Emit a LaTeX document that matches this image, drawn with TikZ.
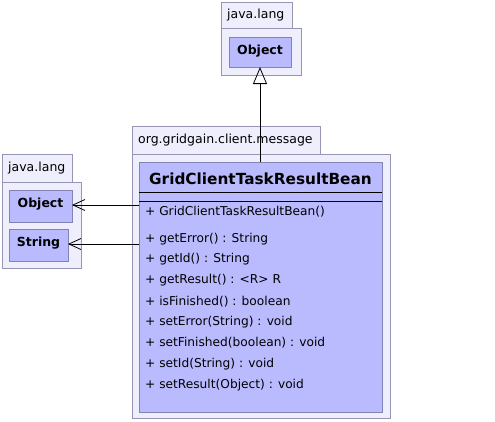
\documentclass[tikz,border=0pt]{standalone}
\usepackage{fontspec}
\setmainfont{DejaVu Sans}
\usetikzlibrary{arrows.meta}
\definecolor{pkgfill}{RGB}{238,238,252}
\definecolor{pkgdraw}{RGB}{150,150,180}
\definecolor{clsfill}{RGB}{186,186,255}
\definecolor{clsdraw}{RGB}{130,130,180}
\tikzset{
  pkg/.style={draw=pkgdraw,fill=pkgfill,line width=0.8pt},
  cls/.style={draw=clsdraw,fill=clsfill,line width=0.8pt},
  pkglabel/.style={anchor=west,font=\fontsize{12.5}{14}\selectfont,inner sep=0pt},
  clslabel/.style={font=\bfseries\fontsize{12.5}{14}\selectfont,inner sep=0pt},
  meth/.style={anchor=west,font=\fontsize{12.2}{14}\selectfont,inner sep=0pt},
  dep/.style={-{Straight Barb[length=12pt,width=11pt]},line width=0.8pt},
  gen/.style={-{Triangle[open,length=17pt,width=14pt]},line width=0.8pt}
}
\begin{document}
\begin{tikzpicture}[x=1pt,y=-1pt]
\useasboundingbox (0,0) rectangle (495,421);
% top package java.lang
\draw[pkg] (221,2) rectangle (292,28);
\draw[pkg] (221,28) rectangle (301,75);
\node[pkglabel] (p1) at (227,15) {java.lang};
\draw[cls] (229,37) rectangle (291,67);
\node[clslabel] (obj1) at (260,51) {Object};
\coordinate (obj1b) at (260,67);
% left package java.lang
\draw[pkg] (2,154) rectangle (72,182);
\draw[pkg] (2,182) rectangle (81,268);
\node[pkglabel] (p2) at (8,168) {java.lang};
\draw[cls] (9,190) rectangle (72,222);
\node[clslabel] (obj2) at (40.5,204) {Object};
\coordinate (obj2r) at (72,205);
\draw[cls] (9,229) rectangle (68,261);
\node[clslabel] (str) at (38.5,243) {String};
\coordinate (strr) at (68,244);
% main package
\draw[pkg] (132,126) rectangle (320,154);
\draw[pkg] (132,154) rectangle (390,418);
\node[pkglabel] (p3) at (138,140) {org.gridgain.client.message};
\draw[cls] (139,162) rectangle (382,412);
\node[font=\bfseries\fontsize{15.3}{18}\selectfont,inner sep=0pt] (main) at (260.5,179) {GridClientTaskResultBean};
\draw[line width=0.8pt] (139,192) -- (382,192);
\draw[line width=0.8pt] (139,201) -- (382,201);
\coordinate (maintop) at (260,162);
\coordinate (mainl1) at (139,205);
\coordinate (mainl2) at (139,244);
\node[meth] (m0) at (145,212) {+ GridClientTaskResultBean()};
\node[meth] (m1) at (145,239) {+ getError() : String};
\node[meth] (m2) at (145,259.5) {+ getId() : String};
\node[meth] (m3) at (145,280.5) {+ getResult() : <R> R};
\node[meth] (m4) at (145,301.5) {+ isFinished() : boolean};
\node[meth] (m5) at (145,322) {+ setError(String) : void};
\node[meth] (m6) at (145,343) {+ setFinished(boolean) : void};
\node[meth] (m7) at (145,364) {+ setId(String) : void};
\node[meth] (m8) at (145,385) {+ setResult(Object) : void};
% connectors
\draw[gen] (maintop) -- (obj1b);
\draw[dep] (mainl1) -- (obj2r);
\draw[dep] (mainl2) -- (strr);
\end{tikzpicture}
\end{document}
